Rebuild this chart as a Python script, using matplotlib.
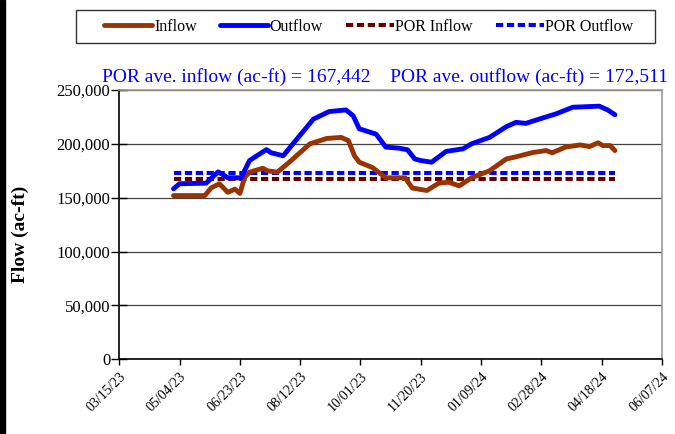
import pandas as pd
import matplotlib
matplotlib.use('Agg')
import matplotlib.pyplot as plt
from matplotlib.patches import Rectangle
from matplotlib.ticker import FuncFormatter, MultipleLocator

plt.rcParams['font.family'] = ['Liberation Serif', 'DejaVu Serif']

# Outflow series (ac-ft)
out_dates = ['04/29/23', '05/04/23', '05/26/23', '06/05/23', '06/13/23', '06/24/23',
             '07/01/23', '07/15/23', '07/19/23', '07/29/23', '08/06/23', '08/23/23',
             '09/05/23', '09/19/23', '09/25/23', '09/30/23', '10/14/23', '10/22/23',
             '11/02/23', '11/09/23', '11/15/23', '11/20/23', '11/29/23', '12/11/23',
             '12/25/23', '01/01/24', '01/16/24', '01/30/24', '02/07/24', '02/15/24',
             '02/29/24', '03/11/24', '03/25/24', '04/16/24', '04/23/24', '04/29/24']
outflow = [158300, 163000, 163500, 174000, 168500, 168500,
           184500, 194700, 191700, 189000, 200000, 223000,
           230000, 231500, 226000, 214000, 209000, 197000,
           196000, 194500, 186000, 184500, 183000, 193000,
           195400, 200000, 206000, 216000, 220000, 219000,
           224000, 227800, 234000, 235000, 231500, 227000]

# Inflow series (ac-ft)
in_dates = ['04/29/23', '05/25/23', '05/30/23', '06/06/23', '06/13/23', '06/19/23',
            '06/23/23', '06/27/23', '07/01/23', '07/12/23', '07/16/23', '07/24/23',
            '08/03/23', '08/20/23', '09/03/23', '09/15/23', '09/21/23', '09/26/23',
            '09/30/23', '10/11/23', '10/22/23', '11/07/23', '11/13/23', '11/25/23',
            '12/05/23', '12/13/23', '12/22/23', '01/01/24', '01/16/24', '01/30/24',
            '02/07/24', '02/21/24', '03/03/24', '03/08/24', '03/19/24', '03/31/24',
            '04/08/24', '04/15/24', '04/19/24', '04/25/24', '04/29/24']
inflow = [152000, 152000, 159000, 163000, 155000, 158000,
          154000, 169000, 173700, 177400, 175000, 173700,
          183000, 200000, 205000, 206000, 203000, 189000,
          183000, 178000, 168500, 168500, 159000, 156700,
          163500, 164400, 161000, 168500, 175000, 186000,
          188000, 192000, 193800, 191700, 197000, 199000,
          197500, 201000, 198400, 198400, 193800]

por_inflow = 167442
por_outflow = 172511

xtick_labels = ['03/15/23', '05/04/23', '06/23/23', '08/12/23', '10/01/23',
                '11/20/23', '01/09/24', '02/28/24', '04/18/24', '06/07/24']

fmt = '%m/%d/%y'
od = pd.to_datetime(out_dates, format=fmt)
idt = pd.to_datetime(in_dates, format=fmt)
xt = pd.to_datetime(xtick_labels, format=fmt)

C_IN = '#993300'
C_OUT = '#0000FF'
C_POR_IN = '#660000'
DASH = (1.8, 0.9)

fig = plt.figure(figsize=(6.75, 4.34), dpi=100)
ax = fig.add_axes([0.1767, 0.1721, 0.8040, 0.6205])

ax.plot(idt, inflow, color=C_IN, lw=3.5, solid_capstyle='round',
        solid_joinstyle='round', zorder=4)
ax.plot(od, outflow, color=C_OUT, lw=3.5, solid_capstyle='round',
        solid_joinstyle='round', zorder=5)
ax.plot([idt[0], idt[-1]], [por_inflow] * 2, color=C_POR_IN, lw=2.9,
        dashes=DASH, zorder=3)
ax.plot([od[0], od[-1]], [por_outflow] * 2, color=C_OUT, lw=2.9,
        dashes=DASH, zorder=3)

ax.set_xlim(xt[0], xt[-1])
ax.set_ylim(0, 250000)
ax.set_xticks(xt)
ax.set_xticklabels(xtick_labels, rotation=45, ha='right', rotation_mode='anchor', fontsize=10)
ax.yaxis.set_major_locator(MultipleLocator(50000))
ax.yaxis.set_major_formatter(FuncFormatter(lambda v, p: f'{int(v):,}'))
ax.tick_params(axis='y', labelsize=12, length=11, direction='inout', width=1, pad=1)
ax.tick_params(axis='x', length=4, direction='out', width=1, pad=4)
ax.grid(axis='y', color='#444444', lw=0.9)
ax.set_axisbelow(True)
for s in ['top', 'right']:
    ax.spines[s].set_color('#999999')
    ax.spines[s].set_linewidth(1.2)
for s in ['left', 'bottom']:
    ax.spines[s].set_color('black')
    ax.spines[s].set_linewidth(1.2)

fig.text(20 / 675, 1 - 234 / 434, 'Flow (ac-ft)', fontsize=14, fontweight='bold',
         rotation=90, ha='center', va='center')

fig.text(668 / 675, 1 - 82 / 434, f'POR ave. inflow (ac-ft) = {por_inflow:,}    '
         f'POR ave. outflow (ac-ft) = {por_outflow:,}',
         color=C_OUT, fontsize=14, ha='right', va='baseline')

handles = [plt.Line2D([], [], color=C_IN, lw=3.5, solid_capstyle='round'),
           plt.Line2D([], [], color=C_OUT, lw=3.5, solid_capstyle='round'),
           plt.Line2D([], [], color=C_POR_IN, lw=2.9, dashes=DASH),
           plt.Line2D([], [], color=C_OUT, lw=2.9, dashes=DASH)]
leg = fig.legend(handles, ['Inflow', 'Outflow', 'POR Inflow', 'POR Outflow'],
                 loc='center', bbox_to_anchor=(369 / 675, 1 - 27 / 434), ncol=4,
                 fontsize=11.5, frameon=False, handlelength=3.0,
                 handletextpad=0.1, columnspacing=1.45, borderpad=0.3)

# legend frame and black strip on the left edge
fig.patches.append(Rectangle((76 / 675, 1 - 43 / 434), (655 - 76) / 675, 33 / 434,
                             transform=fig.transFigure, fill=False,
                             edgecolor='#333333', lw=1.0, zorder=9))
fig.patches.append(Rectangle((0, 0), 5 / 675, 1, transform=fig.transFigure,
                             color='black', zorder=10))

fig.savefig('out.png', dpi=100)
